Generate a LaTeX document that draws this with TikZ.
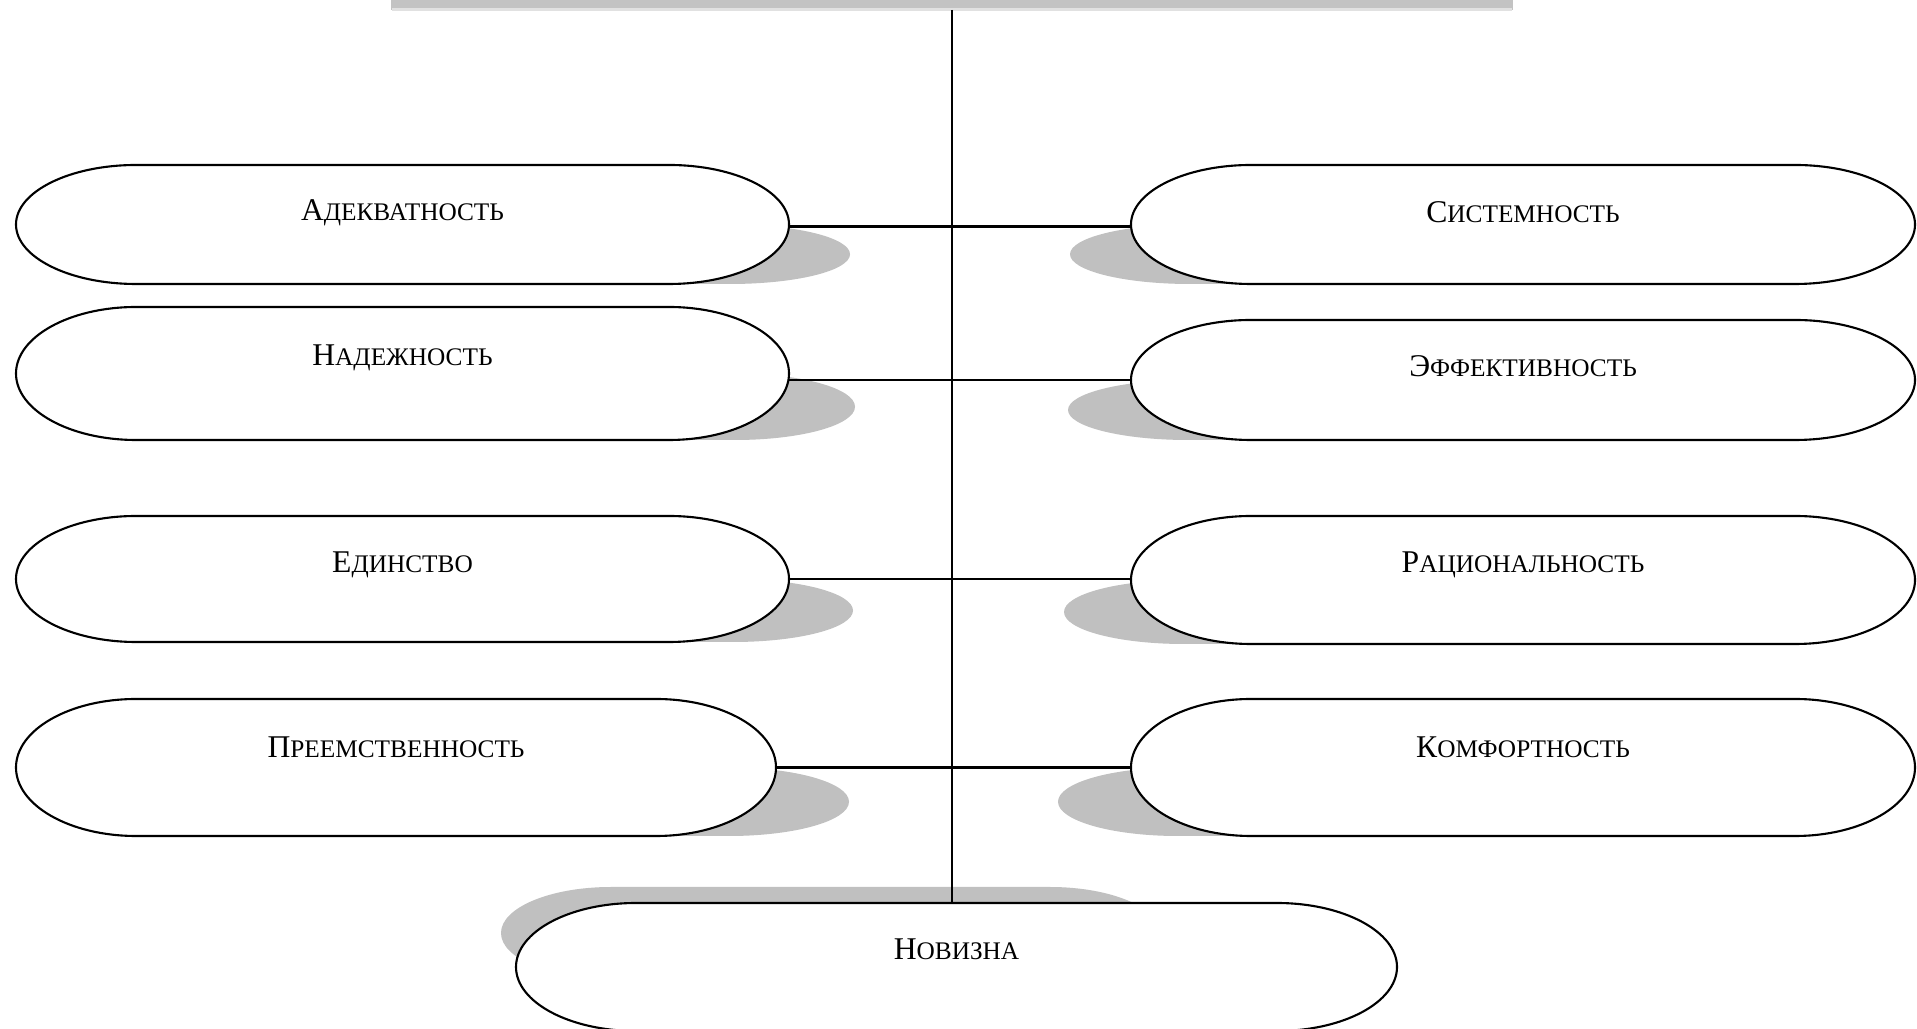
\documentclass[tikz,border=0pt]{standalone}
\usepackage{fontspec}
\setmainfont{Liberation Serif}
\usetikzlibrary{calc}
\definecolor{shade}{RGB}{192,192,192}
\definecolor{barc}{RGB}{195,195,195}
\definecolor{baredge}{RGB}{225,225,225}
\newcommand\sca[2]{#1{\fontsize{7.2pt}{8pt}\selectfont #2}}
\tikzset{
  pillline/.style={draw=black, line width=0.6pt, fill=white},
  shadowfill/.style={fill=shade, draw=none},
  geom/.style={rectangle, draw=none, inner sep=0pt, outer sep=0pt},
  lbl/.style={font=\fontsize{9pt}{11pt}\selectfont, inner sep=0pt},
  conn/.style={draw=black, line width=0.6pt},
  topbar/.style={rectangle, fill=barc, draw=none, inner sep=0pt, outer sep=0pt}
}
% pill path: x1, ytop, x2, ybot in px (y downwards), rx in cm
\newcommand\pillpath[5]{%
  ({(#1)/100+#5},{-(#2)/100}) -- ({(#3)/100-#5},{-(#2)/100})
  arc[start angle=90,end angle=-90,x radius=#5cm,y radius={((#4)-(#2))/200*1cm}]
  -- ({(#1)/100+#5},{-(#4)/100})
  arc[start angle=270,end angle=90,x radius=#5cm,y radius={((#4)-(#2))/200*1cm}]
  -- cycle}
% pill node: name, x1, y1, x2, y2 (px), text, shadow dx (px), label raise (cm)
\newcommand\pill[8]{%
  \fill[shadowfill] \pillpath{#2+#7}{(#3+#5)/2}{#4+#7}{#5}{1.2};
  \draw[pillline] \pillpath{#2}{#3}{#4}{#5}{1.2};
  \node[geom, minimum width={(#4-#2)/100*1cm}, minimum height={(#5-#3)/100*1cm},
        label={[lbl,yshift=#8cm]center:#6}] (#1) at ({(#2+#4)/200},{-(#3+#5)/200}) {};
}
\begin{document}
\begin{tikzpicture}
\useasboundingbox (0,0) rectangle (19.17,-10.29);
\fill[white] (0,0) rectangle (19.17,-10.29);
% top bar (bottom of a cut-off box)
\node[topbar, minimum width=11.22cm, minimum height=0.10cm] (T) at (9.52,-0.05) {};
\draw[baredge, line width=0.8pt] (3.92,-0.095) -- (15.12,-0.095);
% left column
\pill{L1}{16}{165}{789}{284}{\sca{А}{ДЕКВАТНОСТЬ}}{61}{0.12}
\pill{L2}{16}{307}{789}{440}{\sca{Н}{АДЕЖНОСТЬ}}{66}{0.16}
\pill{L3}{16}{516}{789}{642}{\sca{Е}{ДИНСТВО}}{64}{0.14}
\pill{L4}{16}{699}{776}{836}{\sca{П}{РЕЕМСТВЕННОСТЬ}}{73}{0.20}
% right column
\pill{R1}{1131}{165}{1915}{284}{\sca{С}{ИСТЕМНОСТЬ}}{-61}{0.12}
\pill{R2}{1131}{320}{1915}{440}{\sca{Э}{ФФЕКТИВНОСТЬ}}{-63}{0.14}
\pill{R3}{1131}{516}{1915}{644}{\sca{Р}{АЦИОНАЛЬНОСТЬ}}{-67}{0.15}
\pill{R4}{1131}{699}{1915}{836}{\sca{К}{ОМФОРТНОСТЬ}}{-73}{0.20}
% bottom node with its own shadow
\fill[shadowfill] \pillpath{501}{887}{1160}{979}{1.1};
\draw[pillline] \pillpath{516}{903}{1397}{1031}{1.2};
\node[geom, minimum width=8.81cm, minimum height=1.28cm,
      label={[lbl,yshift=0.18cm]center:\sca{Н}{ОВИЗНА}}] (N) at (9.565,-9.67) {};
% connectors
\draw[conn] (T.south) -- (T.south |- N.north);
\draw[conn] ([yshift=-0.02cm]L1.east) -- ([yshift=-0.02cm]L1.east -| R1.west);
\draw[conn] (L2.east |- R2.west) -- (R2.west);
\draw[conn] (L3.east) -- (L3.east -| R3.west);
\draw[conn] (L4.east) -- (L4.east -| R4.west);
\end{tikzpicture}
\end{document}
